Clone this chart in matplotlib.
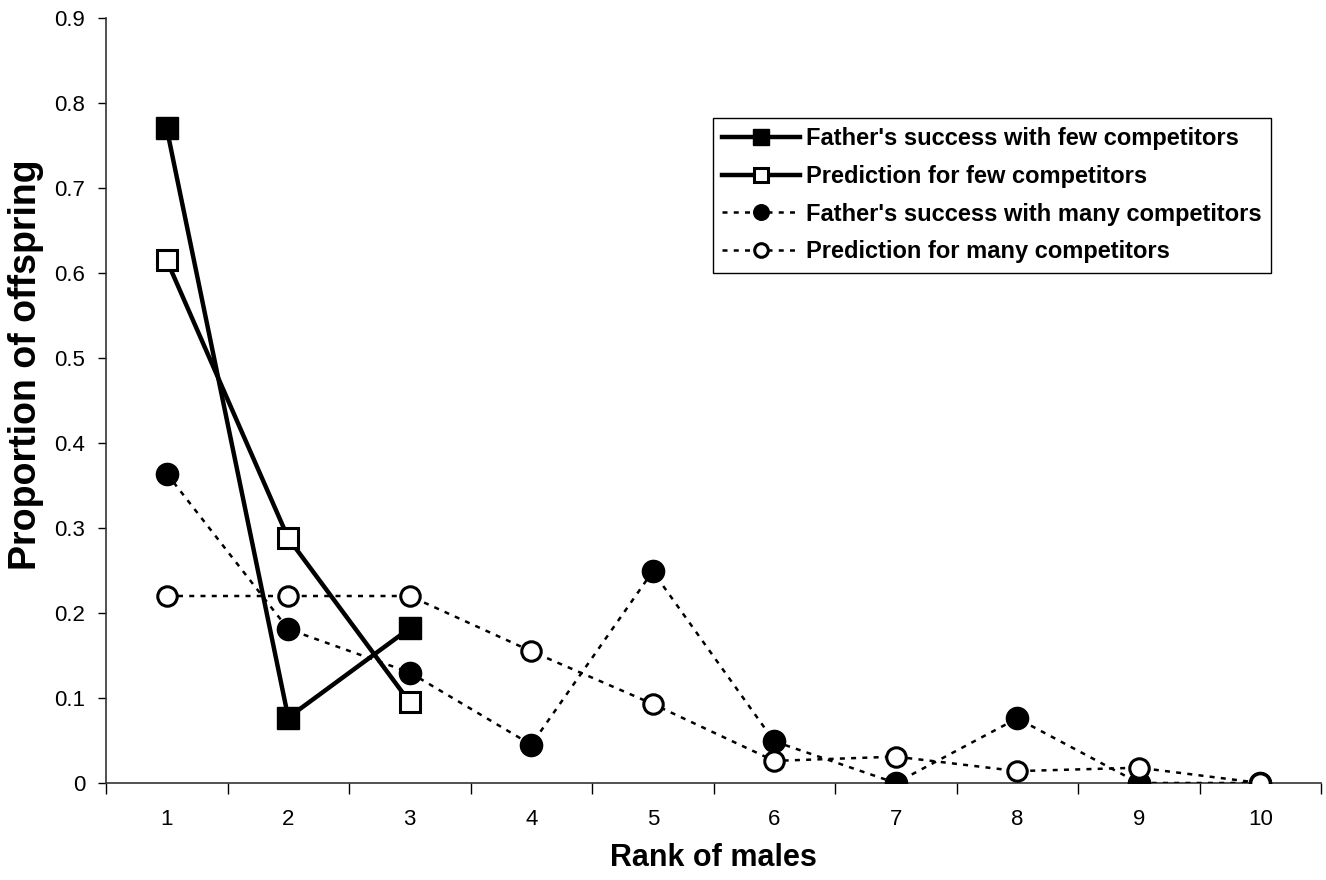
import matplotlib.pyplot as plt
from matplotlib.ticker import MultipleLocator

plt.rcParams['font.family'] = ['Liberation Sans', 'DejaVu Sans']

# Data
ranks = [1, 2, 3, 4, 5, 6, 7, 8, 9, 10]
few_success = [0.77, 0.077, 0.182]
few_pred = [0.615, 0.288, 0.095]
many_success = [0.364, 0.181, 0.13, 0.045, 0.249, 0.049, 0.0, 0.076, 0.0, 0.0]
many_pred = [0.22, 0.22, 0.22, 0.155, 0.093, 0.026, 0.031, 0.014, 0.018, 0.0]

fig = plt.figure(figsize=(13.26, 8.8), dpi=100)
ax = fig.add_axes([106 / 1326, 97 / 880, 1215 / 1326, 765 / 880])

dots = (0, (2, 2.5))
ax.plot(ranks, many_success, color='black', lw=1.8, ls=dots, marker='o',
        ms=16, mfc='black', mec='black', label="Father's success with many competitors", zorder=3)
ax.plot(ranks, many_pred, color='black', lw=1.8, ls=dots, marker='o',
        ms=14, mfc='white', mec='black', mew=2.2, label='Prediction for many competitors', zorder=4)
ax.plot(ranks[:3], few_success, color='black', lw=3.2, marker='s',
        ms=16, mfc='black', mec='black', label="Father's success with few competitors", zorder=5)
ax.plot(ranks[:3], few_pred, color='black', lw=3.2, marker='s',
        ms=14, mfc='white', mec='black', mew=2.2, label='Prediction for few competitors', zorder=6)

ax.set_xlim(0.5, 10.5)
ax.set_ylim(0, 0.9)
ax.set_xticks(ranks)
ax.set_xticklabels([str(r) for r in ranks])
ax.xaxis.set_minor_locator(MultipleLocator(1, offset=0.5))
ax.tick_params(axis='x', which='major', length=0, pad=19, labelsize=16)
ax.tick_params(axis='x', which='minor', length=8, width=1, direction='out')
ax.yaxis.set_major_locator(MultipleLocator(0.1))
ax.yaxis.set_major_formatter(plt.FuncFormatter(lambda v, p: '0' if abs(v) < 1e-9 else f'{v:.1f}'))
ax.tick_params(axis='y', which='major', length=6, width=1, direction='out', pad=9, labelsize=16)

for side in ['top', 'right']:
    ax.spines[side].set_visible(False)
for side in ['left', 'bottom']:
    ax.spines[side].set_linewidth(1.2)
    ax.spines[side].set_color('#333333')

ax.set_xlabel('Rank of males', fontsize=22, fontweight='bold')
ax.xaxis.set_label_coords(0.5, -(858 - 783) / 765)
ax.xaxis.label.set_va('center')
ax.set_ylabel('Proportion of offspring', fontsize=27, fontweight='bold')
ax.yaxis.set_label_coords(-(106 - 26) / 1215, 1 - (365 - 18) / 765)
ax.yaxis.label.set_va('center')

handles, labels = ax.get_legend_handles_labels()
order = [2, 3, 0, 1]
leg = fig.legend([handles[i] for i in order], [labels[i] for i in order],
                 loc='upper left', bbox_to_anchor=(713 / 1326, 1 - 118 / 880),
                 bbox_transform=fig.transFigure, borderaxespad=0,
                 prop={'weight': 'bold', 'size': 17}, handlelength=3.3, handletextpad=0.25,
                 labelspacing=0.62, markerscale=0.7, fancybox=False, framealpha=1,
                 edgecolor='black', borderpad=0.4)
leg.get_frame().set_linewidth(1)

fig.savefig('out.png', dpi=100)
